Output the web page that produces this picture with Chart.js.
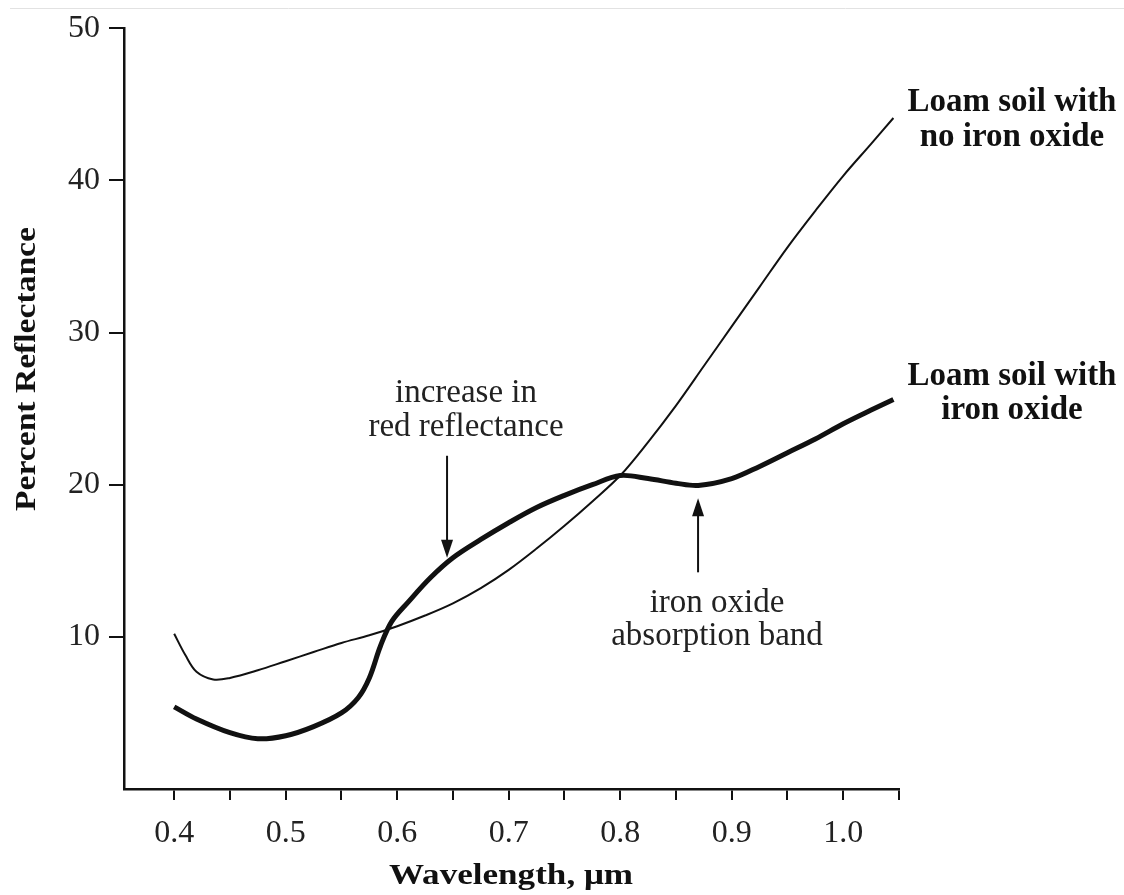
<!DOCTYPE html>
<html>
<head>
<meta charset="utf-8">
<script src="https://cdn.jsdelivr.net/npm/chart.js@4.4.1/dist/chart.umd.min.js"></script>
<style>
    body { margin: 0; background: #fff; }
    #wrap { width: 1124px; height: 895px; position: relative; }
</style>
</head>
<body>
<div id="wrap"><canvas id="soilChart"></canvas></div>
<script>
// Wavelength (um) and percent reflectance
const wavelengthNoIron = [0.40, 0.41, 0.42, 0.435, 0.45, 0.475, 0.50, 0.525, 0.55, 0.575, 0.60, 0.625, 0.65, 0.675, 0.70, 0.725, 0.75, 0.775, 0.80, 0.825, 0.85, 0.875, 0.90, 0.925, 0.95, 0.975, 1.00, 1.025, 1.045];
const reflectNoIron   = [10.2, 8.8, 7.7, 7.2, 7.3, 7.8, 8.4, 9.0, 9.6, 10.1, 10.7, 11.4, 12.2, 13.2, 14.4, 15.8, 17.3, 18.9, 20.6, 22.8, 25.2, 27.8, 30.4, 33.0, 35.6, 38.0, 40.3, 42.4, 44.1];

const wavelengthIron = [0.40, 0.42, 0.45, 0.475, 0.50, 0.525, 0.55, 0.565, 0.575, 0.585, 0.595, 0.61, 0.63, 0.65, 0.675, 0.70, 0.725, 0.75, 0.775, 0.80, 0.825, 0.85, 0.87, 0.90, 0.925, 0.95, 0.975, 1.00, 1.025, 1.045];
const reflectIron   = [5.4, 4.6, 3.7, 3.3, 3.5, 4.1, 5.0, 6.0, 7.3, 9.4, 11.0, 12.3, 13.9, 15.2, 16.4, 17.5, 18.5, 19.3, 20.0, 20.6, 20.4, 20.1, 19.95, 20.4, 21.2, 22.1, 23.0, 24.0, 24.9, 25.6];

const xTickValues = [0.4, 0.45, 0.5, 0.55, 0.6, 0.65, 0.7, 0.75, 0.8, 0.85, 0.9, 0.95, 1.0, 1.05];
const xTickLabels = ['0.4', '0.5', '0.6', '0.7', '0.8', '0.9', '1.0'];
const yTickValues = [10, 20, 30, 40, 50];

const seriesNames = ['Loam soil with no iron oxide', 'Loam soil with iron oxide'];

const serif = '"Liberation Serif", "DejaVu Serif", serif';

function toPoints(xs, ys) {
    return xs.map((x, i) => ({ x: x, y: ys[i] }));
}

// Text and arrows placed in data coordinates
const annotations = {
    texts: [
        { lines: ['Loam soil with', 'no iron oxide'], x: 1.1513, y: 45.1, gap: 2.3, bold: true },
        { lines: ['Loam soil with', 'iron oxide'], x: 1.1513, y: 27.1, gap: 2.23, bold: true },
        { lines: ['increase in', 'red reflectance'], x: 0.6617, y: 25.98, gap: 2.23, bold: false },
        { lines: ['iron oxide', 'absorption band'], x: 0.8868, y: 12.2, gap: 2.17, bold: false }
    ],
    arrows: [
        { x: 0.6447, from: 21.9, to: 15.2 },
        { x: 0.8698, from: 14.24, to: 19.1 }
    ]
};

const annotationPlugin = {
    id: 'annotations',
    beforeDraw(chart) {
        const ctx = chart.ctx;
        ctx.save();
        ctx.strokeStyle = '#e2e2e2';
        ctx.lineWidth = 1;
        ctx.beginPath();
        ctx.moveTo(10, 8.5);
        ctx.lineTo(chart.width, 8.5);
        ctx.stroke();
        ctx.restore();
    },
    afterDraw(chart) {
        const ctx = chart.ctx;
        const xs = chart.scales.x;
        const ys = chart.scales.y;
        ctx.save();
        ctx.textAlign = 'center';
        ctx.textBaseline = 'middle';

        annotations.texts.forEach(t => {
            ctx.font = (t.bold ? 'bold 33px ' : '33px ') + serif;
            ctx.fillStyle = t.bold ? '#111' : '#222';
            t.lines.forEach((line, i) => {
                ctx.fillText(line, xs.getPixelForValue(t.x), ys.getPixelForValue(t.y - i * t.gap));
            });
        });

        ctx.strokeStyle = '#111';
        ctx.fillStyle = '#111';
        ctx.lineWidth = 2;
        annotations.arrows.forEach(a => {
            const px = xs.getPixelForValue(a.x);
            const y0 = ys.getPixelForValue(a.from);
            const y1 = ys.getPixelForValue(a.to);
            const dir = y1 > y0 ? 1 : -1;
            ctx.beginPath();
            ctx.moveTo(px, y0);
            ctx.lineTo(px, y1 - dir * 16);
            ctx.stroke();
            ctx.beginPath();
            ctx.moveTo(px, y1);
            ctx.lineTo(px - 6, y1 - dir * 18);
            ctx.lineTo(px + 6, y1 - dir * 18);
            ctx.closePath();
            ctx.fill();
        });

        // axis titles (the original lettering is a little wider than Liberation Serif)
        ctx.fillStyle = '#111';
        ctx.font = 'bold 30px ' + serif;
        ctx.save();
        ctx.translate(511, 876);
        ctx.scale(1.17, 1);
        ctx.fillText('Wavelength, \u03bcm', 0, 0);
        ctx.restore();
        ctx.translate(27, 369);
        ctx.rotate(-Math.PI / 2);
        ctx.scale(1.12, 1);
        ctx.fillText('Percent Reflectance', 0, 0);
        ctx.restore();
    }
};

document.addEventListener('DOMContentLoaded', function() {
    const canvas = document.getElementById('soilChart');
    new Chart(canvas, {
        type: 'scatter',
        data: {
            datasets: [
                {
                    label: seriesNames[0],
                    data: toPoints(wavelengthNoIron, reflectNoIron),
                    showLine: true,
                    borderColor: '#111',
                    borderWidth: 2,
                    pointRadius: 0,
                    tension: 0.35
                },
                {
                    label: seriesNames[1],
                    data: toPoints(wavelengthIron, reflectIron),
                    showLine: true,
                    borderColor: '#111',
                    borderWidth: 5,
                    pointRadius: 0,
                    tension: 0.35
                }
            ]
        },
        options: {
            responsive: true,
            maintainAspectRatio: false,
            animation: false,
            layout: { padding: { top: 27, right: 225, left: 0, bottom: 0 } },
            plugins: {
                legend: { display: false },
                tooltip: { enabled: false }
            },
            scales: {
                x: {
                    type: 'linear',
                    min: 0.355,
                    max: 1.05,
                    afterBuildTicks: scale => { scale.ticks = xTickValues.map(v => ({ value: v })); },
                    afterFit: scale => { scale.height = 106; },
                    ticks: {
                        autoSkip: false,
                        maxRotation: 0,
                        padding: 14,
                        color: '#222',
                        font: { family: serif, size: 32 },
                        callback: value => {
                            const label = value.toFixed(1);
                            return Math.abs(value * 10 - Math.round(value * 10)) < 1e-6 && xTickLabels.includes(label) ? label : '';
                        }
                    },
                    grid: { drawOnChartArea: false, tickLength: 11, tickColor: '#111', lineWidth: 2 },
                    border: { color: '#111', width: 2.5 }
                },
                y: {
                    min: 0,
                    max: 50,
                    afterBuildTicks: scale => { scale.ticks = yTickValues.map(v => ({ value: v })); },
                    afterFit: scale => { scale.width = 124; },
                    ticks: {
                        padding: 9,
                        color: '#222',
                        font: { family: serif, size: 32 }
                    },
                    grid: { drawOnChartArea: false, tickLength: 15, tickColor: '#111', lineWidth: 2 },
                    border: { color: '#111', width: 2.5 }
                }
            }
        },
        plugins: [annotationPlugin]
    });
});
</script>
</body>
</html>
